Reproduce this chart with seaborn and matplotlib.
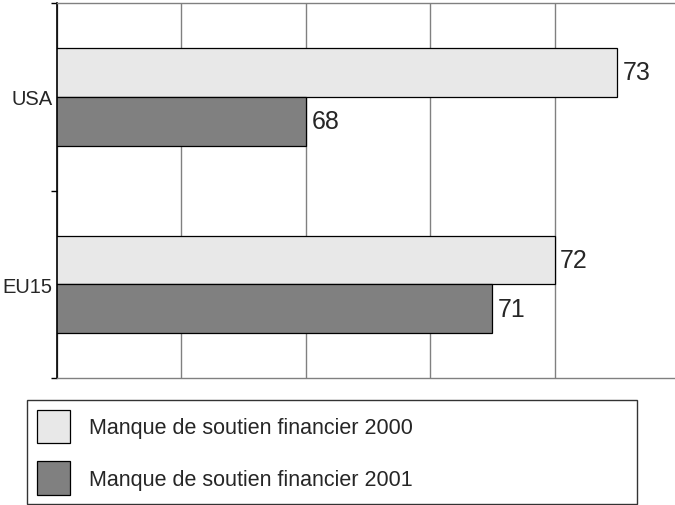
import pandas as pd
import matplotlib.pyplot as plt
import seaborn as sns

# données
pays = ["USA", "EU15"]
series = ["Manque de soutien financier 2000", "Manque de soutien financier 2001"]
valeurs_2000 = [73, 72]
valeurs_2001 = [68, 71]
couleurs = ["#e8e8e8", "#808080"]

df = pd.DataFrame({
    "pays": pays * 2,
    "serie": [series[0]] * len(pays) + [series[1]] * len(pays),
    "valeur": valeurs_2000 + valeurs_2001,
})

sns.set_style("white")
plt.rcParams["font.family"] = ["Liberation Sans", "DejaVu Sans"]

fig = plt.figure(figsize=(6.75, 5.06), dpi=100)
ax = fig.add_axes([57 / 675, 127 / 506, 618 / 675, 375 / 506])

sns.barplot(data=df, x="valeur", y="pays", hue="serie", order=pays,
            hue_order=series, palette=couleurs, saturation=1, width=0.52,
            edgecolor="black", linewidth=0.9, orient="h", ax=ax)

# étiquettes de valeur au bout des barres
for c in ax.containers:
    ax.bar_label(c, fmt="%d", padding=4, fontsize=18)

ax.set_xlim(64, 64 + 618 / 62.2)
ax.set_ylim(1.5, -0.5)
ax.set_xticks([64, 66, 68, 70, 72])
ax.set_xticklabels([])
ax.tick_params(axis="x", length=0)
ax.grid(axis="x", color="#808080", linewidth=1)
ax.set_axisbelow(True)

ax.set_yticks([-0.5, 0.5, 1.5], minor=True)
ax.tick_params(axis="y", which="major", length=0, labelsize=14.5, pad=3.5)
ax.tick_params(axis="y", which="minor", length=4, width=1, color="black",
               direction="out", left=True)
ax.set_xlabel("")
ax.set_ylabel("")

for s in ["top", "bottom"]:
    ax.spines[s].set_color("#808080")
    ax.spines[s].set_linewidth(1)
ax.spines["right"].set_visible(False)
ax.spines["left"].set_color("black")
ax.spines["left"].set_linewidth(1.2)

# légende dans un cadre sous le graphique
handles, labels = ax.get_legend_handles_labels()
ax.get_legend().remove()
leg = fig.legend(handles, labels, loc="upper left",
                 bbox_to_anchor=(27 / 675, 0, 610 / 675, 105 / 506),
                 mode="expand", fontsize=15.5, frameon=True, fancybox=False,
                 edgecolor="black", handlelength=1.55, handleheight=2.0,
                 labelspacing=0.85, borderpad=0.45, handletextpad=0.9,
                 borderaxespad=0)
leg.get_frame().set_linewidth(1)
for h in leg.legend_handles:
    h.set_edgecolor("black")

fig.savefig("out.png", dpi=100)
